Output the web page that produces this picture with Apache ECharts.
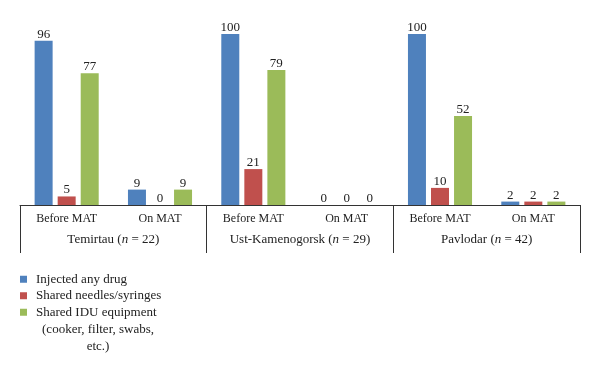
<!DOCTYPE html>
<html><head><meta charset="utf-8">
<script src="https://cdn.jsdelivr.net/npm/echarts@6/dist/echarts.min.js"></script>
<style>html,body{margin:0;padding:0;background:#fff}#c{width:600px;height:373px}</style>
</head><body><div id="c"></div>
<script>
const categories = ['Before MAT','On MAT','Before MAT','On MAT','Before MAT','On MAT'];
const groups = ['Temirtau (n = 22)','Ust-Kamenogorsk (n = 29)','Pavlodar (n = 42)'];
const injected = [96, 9, 100, 0, 100, 2];
const sharedNeedles = [5, 0, 21, 0, 10, 2];
const sharedEquipment = [77, 9, 79, 0, 52, 2];
const seriesNames = ['Injected any drug','Shared needles/syringes','Shared IDU equipment'];
const legendContinuation = ['(cooker, filter, swabs,', 'etc.)'];

const FONT = '"Liberation Serif", "DejaVu Serif", serif';
const chart = echarts.init(document.getElementById('c'));
const lbl = {show:true, position:'top', distance:0, fontFamily:FONT, fontSize:13, color:'#222'};
function groupFmt(v){
  const m = v.match(/^(.*)\((n) = (\d+)\)$/);
  return m ? m[1] + '({i|n} = ' + m[3] + ')' : v;
}
chart.setOption({
  animation:false,
  textStyle:{fontFamily:FONT},
  grid:{left:20, right:20, top:34, bottom:168},
  legend:{
    orient:'vertical', left:20, top:271, padding:0, itemWidth:7, itemHeight:7, itemGap:0,
    height:120, icon:'rect',
    data:seriesNames,
    textStyle:{fontFamily:FONT, fontSize:13, color:'#222', lineHeight:16.5, padding:[0,0,0,4]}
  },
  graphic: legendContinuation.map((t,i)=>({
    type:'text', x:98, y:330 + i*16.5,
    style:{text:t, font:'13px ' + FONT, fill:'#222', textAlign:'center', textVerticalAlign:'middle'}
  })),
  xAxis:[
    {type:'category', data:categories, position:'bottom',
     axisLine:{lineStyle:{color:'#333', width:1}}, axisTick:{show:false},
     axisLabel:{interval:0, margin:8, fontFamily:FONT, fontSize:12, color:'#222'}},
    {type:'category', data:groups, position:'bottom',
     axisLine:{show:false},
     axisTick:{show:true, length:48, interval:0, lineStyle:{color:'#333'}},
     axisLabel:{interval:0, margin:28, fontFamily:FONT, fontSize:13, color:'#222', formatter:groupFmt,
       rich:{i:{fontStyle:'italic', fontFamily:FONT, fontSize:13, color:'#222'}}}}
  ],
  yAxis:{type:'value', min:0, max:100, show:false},
  series:[
    {name:seriesNames[0], type:'bar', data:injected, itemStyle:{color:'#4F81BD'}, label:lbl, barWidth:18, barGap:'28%'},
    {name:seriesNames[1], type:'bar', data:sharedNeedles, itemStyle:{color:'#C0504D'}, label:lbl, barWidth:18, barGap:'28%'},
    {name:seriesNames[2], type:'bar', data:sharedEquipment, itemStyle:{color:'#9BBB59'}, label:lbl, barWidth:18, barGap:'28%'}
  ]
});
</script></body></html>
